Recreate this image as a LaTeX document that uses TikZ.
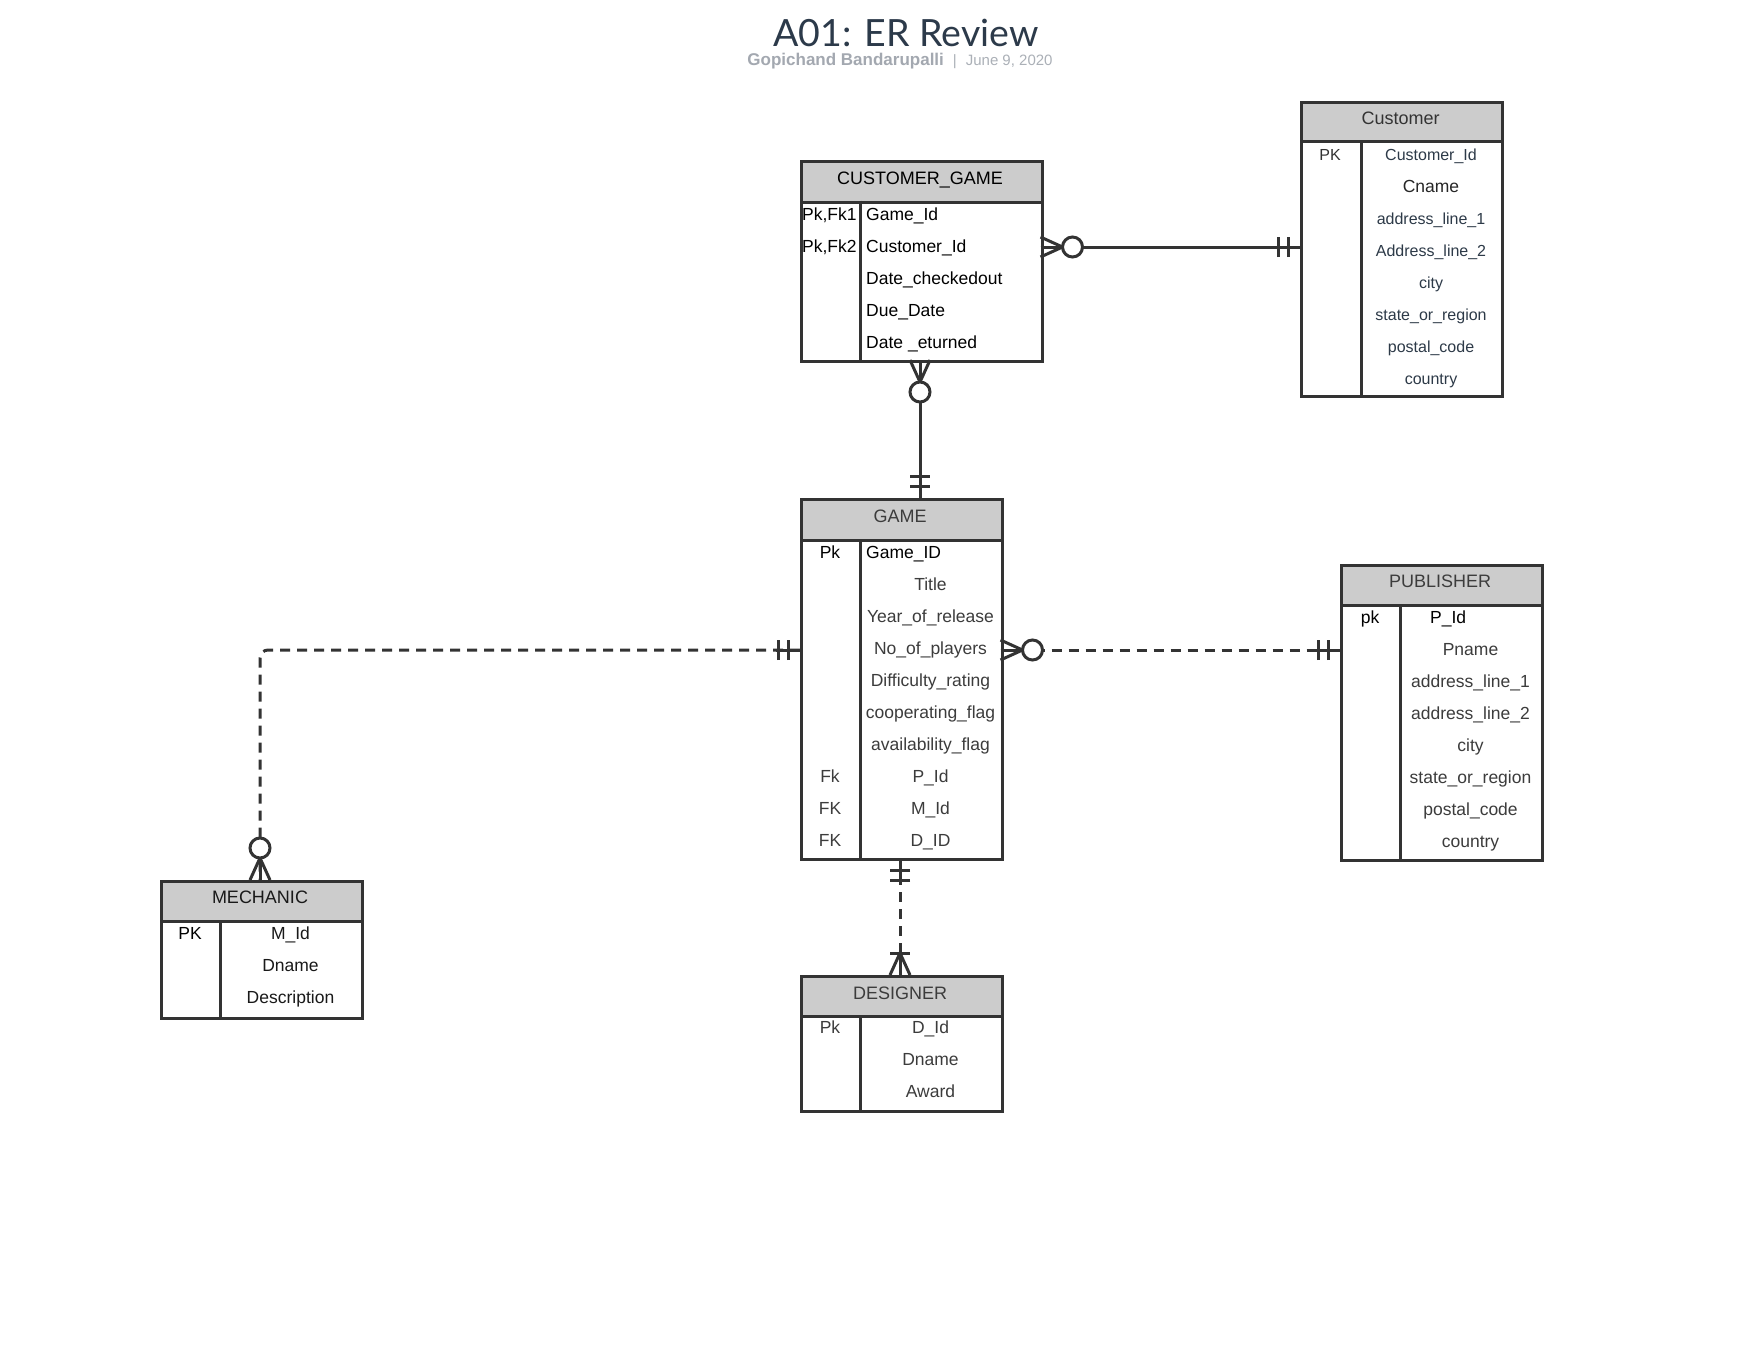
\documentclass[tikz,border=0pt]{standalone}
\usepackage{fontspec}
\setmainfont{Liberation Sans}
\newfontfamily\latofont{Lato}
\definecolor{ink}{HTML}{333333}
\definecolor{grayink}{HTML}{3C3C3C}
\definecolor{blueink}{HTML}{2D3A48}
\definecolor{hdrfill}{HTML}{CCCCCC}
\definecolor{titlec}{HTML}{2C3A4A}
\definecolor{subc}{HTML}{A3A8B0}
\definecolor{subd}{HTML}{ABB0B7}
\tikzset{
  hdrbox/.style={draw=ink, line width=3pt, fill=hdrfill, anchor=north west, inner sep=0pt},
  bodybox/.style={draw=ink, line width=3pt, fill=white, anchor=north west, inner sep=0pt},
  divider/.style={draw=ink, line width=3pt},
  txt/.style={inner sep=0pt, anchor=base, font=\fontsize{17.5}{20}\selectfont, text=grayink},
  txtb/.style={txt, text=black},
  txts/.style={txt, font=\fontsize{16}{19}\selectfont, text=blueink},
  hdr/.style={inner sep=0pt, anchor=base, font=\fontsize{18}{21}\selectfont, text=ink},
  conn/.style={draw=ink, line width=3pt},
  dconn/.style={conn, dash pattern=on 10pt off 7pt},
  zeromany/.pic={
    \draw[ink, line width=3pt] (0,-10) -- (22,0) -- (0,10);
    \draw[ink, line width=3pt] (0,0) -- (22,0);
    \draw[ink, line width=3pt, fill=white] (32,0) circle (10pt);
  },
  oneone/.pic={
    \draw[ink, line width=3pt] (0,0) -- (24,0);
    \draw[ink, line width=3pt] (12,-10) -- (12,10);
    \draw[ink, line width=3pt] (22,-10) -- (22,10);
  },
  onemany/.pic={
    \draw[ink, line width=3pt] (0,-10) -- (22,0) -- (0,10);
    \draw[ink, line width=3pt] (0,0) -- (24,0);
    \draw[ink, line width=3pt] (22,-10) -- (22,10);
  }
}
\begin{document}
\begin{tikzpicture}[x=1pt, y=-1pt]
\useasboundingbox[fill=white] (0,0) rectangle (1760,1360);

% Title
\node[anchor=base, inner sep=0pt, font=\latofont\fontsize{37.5}{40}\selectfont, text=titlec] (title) at (906,46) {A01: ER Review};
\node[anchor=base, inner sep=0pt, font=\fontsize{17}{18}\selectfont] (subtitle) at (900,65)
  {\textcolor{subc}{\bfseries Gopichand Bandarupalli}\hspace{9pt}\textcolor{subd}{\fontsize{15}{16}\selectfont |}\hspace{9pt}\textcolor{subd}{\fontsize{15}{16}\selectfont June 9, 2020}};

% CUSTOMER_GAME
\node[hdrbox, minimum width=240.5, minimum height=40.5] (cgh) at (800,160) {};
\node[bodybox, minimum width=240.5, minimum height=159.5] (cg) at (800,200.5) {};
\draw[divider] (860.5,200.5) -- (860.5,360);
\node[hdr, text=black] (cgt) at (920,184.5) {CUSTOMER\_GAME};
\node[txtb, anchor=base west] (cgk1) at (802,220) {Pk,Fk1};
\node[txtb, anchor=base west] (cgk2) at (802,252) {Pk,Fk2};
\node[txtb, anchor=base west] (cgr1) at (866,220) {Game\_Id};
\node[txtb, anchor=base west] (cgr2) at (866,252) {Customer\_Id};
\node[txtb, anchor=base west] (cgr3) at (866,284) {Date\_checkedout};
\node[txtb, anchor=base west] (cgr4) at (866,316) {Due\_Date};
\node[txtb, anchor=base west] (cgr5) at (866,348) {Date \_eturned};

% Customer
\node[hdrbox, minimum width=201, minimum height=39] (cuh) at (1300,101) {};
\node[bodybox, minimum width=201, minimum height=255] (cu) at (1300,140) {};
\draw[divider] (1361,140) -- (1361,395);
\node[hdr] (cut) at (1400.5,124.5) {Customer};
\node[txts, text=ink] (cuk) at (1330,160) {PK};
\node[txts] (cur1) at (1431,160) {Customer\_Id};
\node[txt, font=\fontsize{17.5}{20}\selectfont, text=black!85] (cur2) at (1431,192.5) {Cname};
\node[txts] (cur3) at (1431,224) {address\_line\_1};
\node[txts] (cur4) at (1431,256) {Address\_line\_2};
\node[txts] (cur5) at (1431,288) {city};
\node[txts] (cur6) at (1431,320) {state\_or\_region};
\node[txts] (cur7) at (1431,352) {postal\_code};
\node[txts] (cur8) at (1431,384) {country};

% GAME
\node[hdrbox, minimum width=200.5, minimum height=41] (gmh) at (800,498) {};
\node[bodybox, minimum width=200.5, minimum height=319] (gm) at (800,539) {};
\draw[divider] (860.5,539) -- (860.5,858);
\node[hdr, text=grayink] (gmt) at (900,522.5) {GAME};
\node[txtb] (gmk1) at (830,558.5) {Pk};
\node[txt] (gmk8) at (830,782.5) {Fk};
\node[txt] (gmk9) at (830,814.5) {FK};
\node[txt] (gmk10) at (830,846.5) {FK};
\node[txtb, anchor=base west] (gmr1) at (866,558.5) {Game\_ID};
\node[txt] (gmr2) at (930.5,590.5) {Title};
\node[txt] (gmr3) at (930.5,622.5) {Year\_of\_release};
\node[txt] (gmr4) at (930.5,654.5) {No\_of\_players};
\node[txt] (gmr5) at (930.5,686.5) {Difficulty\_rating};
\node[txt] (gmr6) at (930.5,718.5) {cooperating\_flag};
\node[txt] (gmr7) at (930.5,750.5) {availability\_flag};
\node[txt] (gmr8) at (930.5,782.5) {P\_Id};
\node[txt] (gmr9) at (930.5,814.5) {M\_Id};
\node[txt] (gmr10) at (930.5,846.5) {D\_ID};

% PUBLISHER
\node[hdrbox, minimum width=200.5, minimum height=40] (puh) at (1340,564) {};
\node[bodybox, minimum width=200.5, minimum height=255] (pu) at (1340,604) {};
\draw[divider] (1400.5,604) -- (1400.5,859);
\node[hdr, text=grayink] (put) at (1440,587.5) {PUBLISHER};
\node[txtb] (puk) at (1370,623.5) {pk};
\node[txtb, anchor=base west] (pur1) at (1430,623.5) {P\_Id};
\node[txt] (pur2) at (1470.5,655.5) {Pname};
\node[txt] (pur3) at (1470.5,687.5) {address\_line\_1};
\node[txt] (pur4) at (1470.5,719.5) {address\_line\_2};
\node[txt] (pur5) at (1470.5,751.5) {city};
\node[txt] (pur6) at (1470.5,783.5) {state\_or\_region};
\node[txt] (pur7) at (1470.5,815.5) {postal\_code};
\node[txt] (pur8) at (1470.5,847.5) {country};

% MECHANIC
\node[hdrbox, minimum width=200.5, minimum height=40] (meh) at (160,880) {};
\node[bodybox, minimum width=200.5, minimum height=97] (me) at (160,920) {};
\draw[divider] (220.5,920) -- (220.5,1017);
\node[hdr, text=black!90] (met) at (260,903) {MECHANIC};
\node[txtb] (mek) at (190,939.5) {PK};
\node[txt, text=black!90] (mer1) at (290.5,939.5) {M\_Id};
\node[txt, text=black!90] (mer2) at (290.5,971.5) {Dname};
\node[txt, text=black!90] (mer3) at (290.5,1003.5) {Description};

% DESIGNER
\node[hdrbox, minimum width=200.5, minimum height=40] (deh) at (800,975) {};
\node[bodybox, minimum width=200.5, minimum height=95] (de) at (800,1015) {};
\draw[divider] (860.5,1015) -- (860.5,1110);
\node[hdr, text=grayink] (det) at (900,999) {DESIGNER};
\node[txt] (dek) at (830,1033.5) {Pk};
\node[txt] (der1) at (930.5,1033.5) {D\_Id};
\node[txt] (der2) at (930.5,1065.5) {Dname};
\node[txt] (der3) at (930.5,1097.5) {Award};

% attach points
\coordinate (cgE) at (1040.5,247);
\coordinate (cuW) at (1300,247);
\coordinate (cgS) at (920,360);
\coordinate (gmN) at (920,498);
\coordinate (gmW) at (800,650);
\coordinate (meN) at (260,880);
\coordinate (gmE) at (1000.5,650);
\coordinate (puW) at (1340,650);
\coordinate (gmS) at (900,858);
\coordinate (deN) at (900,975);

% connectors
\draw[conn] (cgE) -- (cuW);
\draw[conn] (cgS) -- (gmN);
\draw[dconn, rounded corners=8pt] (gmW) -- (meN |- gmW) -- (meN);
\draw[dconn] (gmE) -- (puW);
\draw[dconn] (gmS) -- (deN);

% cardinality marks
\pic at (cgE) {zeromany};
\pic[rotate=180] at (cuW) {oneone};
\pic[rotate=-90] at (cgS) {zeromany};
\pic[rotate=90] at (gmN) {oneone};
\pic[rotate=180] at (gmW) {oneone};
\pic[rotate=90] at (meN) {zeromany};
\pic at (gmE) {zeromany};
\pic[rotate=180] at (puW) {oneone};
\pic[rotate=-90] at (gmS) {oneone};
\pic[rotate=90] at (deN) {onemany};
\end{tikzpicture}
\end{document}
